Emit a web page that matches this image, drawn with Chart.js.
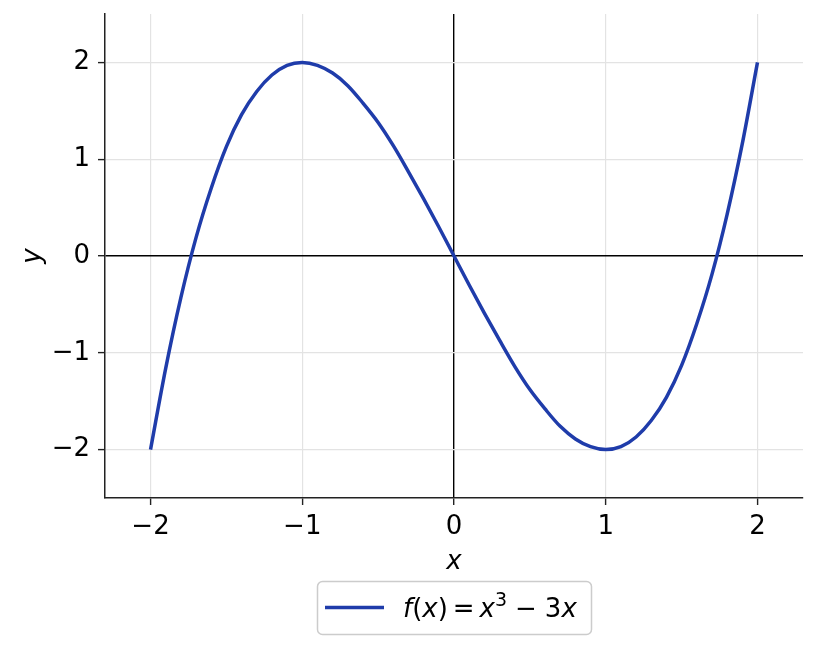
<!DOCTYPE html>
<html lang="en">
<head>
    <meta charset="UTF-8">
    <title>f(x) = x^3 - 3x</title>
    <script src="https://cdn.jsdelivr.net/npm/chart.js"></script>
    <style>
        html, body { margin: 0; padding: 0; background: #fff; }
        #wrap { width: 817px; height: 650px; }
    </style>
</head>
<body>
    <div id="wrap"><canvas id="plot" width="817" height="650"></canvas></div>

    <script>
        // values
        const xValues = [-2.0, -1.9, -1.8, -1.7, -1.6, -1.5, -1.4, -1.3, -1.2, -1.1, -1.0,
                         -0.9, -0.8, -0.7, -0.6, -0.5, -0.4, -0.3, -0.2, -0.1, 0.0,
                          0.1,  0.2,  0.3,  0.4,  0.5,  0.6,  0.7,  0.8,  0.9, 1.0,
                          1.1,  1.2,  1.3,  1.4,  1.5,  1.6,  1.7,  1.8,  1.9, 2.0];
        const yValues = [-2.0, -1.16, -0.43, 0.19, 0.70, 1.13, 1.46, 1.70, 1.87, 1.97, 2.0,
                          1.97, 1.89, 1.76, 1.58, 1.38, 1.14, 0.87, 0.59, 0.30, 0.0,
                         -0.30, -0.59, -0.87, -1.14, -1.38, -1.58, -1.76, -1.89, -1.97, -2.0,
                         -1.97, -1.87, -1.70, -1.46, -1.13, -0.70, -0.19, 0.43, 1.16, 2.0];
        const xTicks = [-2, -1, 0, 1, 2];
        const yTicks = [-2, -1, 0, 1, 2];
        const seriesLabel = 'f(x) = x³ − 3x';

        const lineColor = '#1f3caa';
        const font = 'DejaVu Sans';
        const minus = v => (v < 0 ? '\u2212' + Math.abs(v) : String(v));

        // legend in a rounded box, with italic letters like mathtext
        const legendBox = {
            id: 'legendBox',
            afterDraw(chart) {
                const ctx = chart.ctx;
                const area = chart.chartArea;
                const cx = (area.left + area.right) / 2;
                const w = 274, h = 53, top = 581;
                const left = cx - w / 2;
                ctx.save();
                ctx.beginPath();
                ctx.roundRect(left + 0.5, top + 0.5, w, h, 5);
                ctx.fillStyle = 'rgba(255,255,255,0.8)';
                ctx.fill();
                ctx.strokeStyle = '#cccccc';
                ctx.lineWidth = 1.5;
                ctx.stroke();

                const my = top + h / 2;
                ctx.beginPath();
                ctx.moveTo(left + 8, my);
                ctx.lineTo(left + 67, my);
                ctx.strokeStyle = lineColor;
                ctx.lineWidth = 3.5;
                ctx.stroke();

                const parts = [
                    ['f', 'italic', 1, 0], ['(', 'normal', 1, 0], ['x', 'italic', 1, 0],
                    [')', 'normal', 1, 0], ['=', 'normal', 1, 0, 5], ['x', 'italic', 1, 0],
                    ['3', 'normal', 0.72, -11], ['\u2212', 'normal', 1, 0, 8], ['3', 'normal', 1, 0], ['x', 'italic', 1, 0]
                ];
                let px = left + 86;
                ctx.fillStyle = '#000';
                ctx.textBaseline = 'alphabetic';
                ctx.textAlign = 'left';
                parts.forEach(([t, style, scale, dy, gap]) => {
                    ctx.font = style + ' ' + Math.round(26 * scale) + 'px "' + font + '"';
                    px += gap || 0;
                    ctx.fillText(t, px, my + 9 + dy);
                    px += ctx.measureText(t).width + (gap || 0);
                });
                ctx.restore();
            }
        };

        new Chart(document.getElementById('plot').getContext('2d'), {
            type: 'line',
            data: {
                datasets: [{
                    label: seriesLabel,
                    data: xValues.map((x, i) => ({ x: x, y: yValues[i] })),
                    borderColor: lineColor,
                    borderWidth: 3.5,
                    pointRadius: 0,
                    cubicInterpolationMode: 'monotone',
                    fill: false
                }]
            },
            options: {
                responsive: false,
                animation: false,
                layout: { padding: { top: 14, right: 14, left: 0, bottom: 0 } },
                plugins: {
                    legend: { display: false },
                    tooltip: { enabled: false }
                },
                scales: {
                    x: {
                        type: 'linear',
                        min: -2.3,
                        max: 2.3,
                        afterBuildTicks: s => { s.ticks = xTicks.map(v => ({ value: v })); },
                        afterFit: s => { s.height = 152; s.paddingLeft = 0; s.paddingRight = 0; },
                        ticks: {
                            callback: v => minus(v),
                            color: '#000',
                            font: { family: font, size: 26 },
                            padding: 7,
                            maxRotation: 0
                        },
                        grid: {
                            color: c => (c.tick && c.tick.value === 0 ? '#000' : '#e3e3e3'),
                            lineWidth: c => (c.tick && c.tick.value === 0 ? 1.4 : 1.2),
                            tickColor: '#222',
                            tickLength: 7,
                            tickWidth: 1.4
                        },
                        border: { display: true, color: '#222', width: 1.5 },
                        title: {
                            display: true,
                            text: 'x',
                            color: '#000',
                            font: { family: font, size: 26, style: 'italic' },
                            padding: { top: 0, bottom: 72 }
                        }
                    },
                    y: {
                        type: 'linear',
                        min: -2.5,
                        max: 2.5,
                        afterBuildTicks: s => { s.ticks = yTicks.map(v => ({ value: v })); },
                        afterFit: s => { s.width = 105; s.paddingTop = 0; s.paddingBottom = 0; },
                        ticks: {
                            callback: v => minus(v),
                            color: '#000',
                            font: { family: font, size: 26 },
                            padding: 8
                        },
                        grid: {
                            color: c => (c.tick && c.tick.value === 0 ? '#000' : '#e3e3e3'),
                            lineWidth: c => (c.tick && c.tick.value === 0 ? 1.4 : 1.2),
                            tickColor: '#222',
                            tickLength: 7,
                            tickWidth: 1.4
                        },
                        border: { display: true, color: '#222', width: 1.5 },
                        title: {
                            display: true,
                            text: 'y',
                            color: '#000',
                            font: { family: font, size: 26, style: 'italic' },
                            padding: { top: 18, bottom: 0 }
                        }
                    }
                }
            },
            plugins: [legendBox]
        });
    </script>
</body>
</html>
